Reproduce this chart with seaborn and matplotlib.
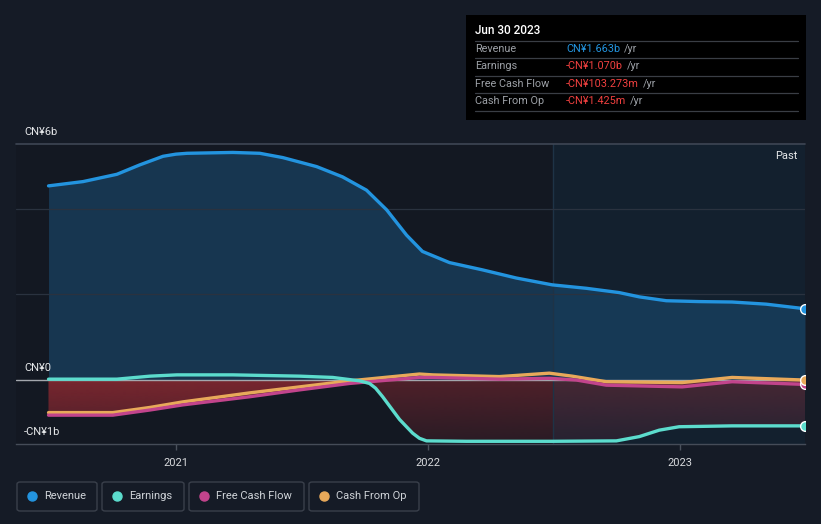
import numpy as np
import pandas as pd
import seaborn as sns
import matplotlib
matplotlib.use("Agg")
import matplotlib.pyplot as plt
from matplotlib.path import Path
from matplotlib.patches import Rectangle, FancyBboxPatch

# ---------------- data (CN¥ billions, decimal years) ----------------
rev_x = [2020.495, 2020.632, 2020.766, 2020.857, 2020.949, 2021.000, 2021.044, 2021.226, 2021.333,
         2021.424, 2021.558, 2021.661, 2021.756, 2021.836, 2021.915, 2021.978, 2022.085,
         2022.216, 2022.350, 2022.493, 2022.628, 2022.758, 2022.838, 2022.945, 2023.075,
         2023.206, 2023.341, 2023.495]
rev_y = [4.53, 4.63, 4.80, 5.02, 5.22, 5.27, 5.29, 5.31, 5.29,
         5.19, 4.98, 4.74, 4.43, 3.97, 3.38, 3.00, 2.74,
         2.57, 2.38, 2.22, 2.14, 2.04, 1.94, 1.85, 1.83,
         1.82, 1.77, 1.663]

earn_x = [2020.495, 2020.766, 2020.897, 2021.004, 2021.226, 2021.491, 2021.622, 2021.729,
          2021.768, 2021.792, 2021.820, 2021.887, 2021.939, 2021.966, 2021.994, 2022.152,
          2022.493, 2022.747, 2022.838, 2022.917, 2022.996, 2023.206, 2023.495]
earn_y = [0.02, 0.02, 0.09, 0.12, 0.12, 0.09, 0.06, -0.02,
          -0.08, -0.19, -0.39, -0.92, -1.24, -1.36, -1.42, -1.43,
          -1.43, -1.42, -1.32, -1.17, -1.09, -1.07, -1.070]

fcf_x = [2020.495, 2020.750, 2020.897, 2021.028, 2021.293, 2021.491, 2021.689, 2021.966,
         2022.018, 2022.283, 2022.481, 2022.588, 2022.707, 2023.008, 2023.206, 2023.495]
fcf_y = [-0.82, -0.82, -0.70, -0.58, -0.39, -0.23, -0.08, 0.06,
         0.06, 0.02, 0.04, 0.00, -0.12, -0.16, -0.04, -0.103]

cfo_x = [2020.495, 2020.750, 2020.897, 2021.028, 2021.293, 2021.491, 2021.689, 2021.966,
         2022.018, 2022.283, 2022.481, 2022.572, 2022.707, 2023.008, 2023.206, 2023.495]
cfo_y = [-0.76, -0.76, -0.64, -0.51, -0.30, -0.16, -0.02, 0.14,
         0.12, 0.08, 0.16, 0.09, -0.04, -0.06, 0.06, -0.001]

year_ticks = [2021, 2022, 2023]
year_labels = ["2021", "2022", "2023"]
past_start = 2022.495
series_names = ["Revenue", "Earnings", "Free Cash Flow", "Cash From Op"]
tooltip_date = "Jun 30 2023"
tooltip_values = ["CN¥1.663b", "-CN¥1.070b", "-CN¥103.273m", "-CN¥1.425m"]
y_labels = ["CN¥6b", "CN¥0", "-CN¥1b"]

# ---------------- styling ----------------
W, H = 821, 524
BG = "#151b26"
AX_BG = "#131822"
C_REV = "#2394df"
C_EARN = "#5cdccd"
C_FCF = "#c2448c"
C_CFO = "#e8a95a"
colors = [C_REV, C_EARN, C_FCF, C_CFO]

sns.set_theme(style="dark")
plt.rcParams["font.family"] = ["Roboto", "DejaVu Sans"]

fig = plt.figure(figsize=(W / 100, H / 100), dpi=100, facecolor=BG)


def fx(x):
    return x / W


def fy(y):
    return 1 - y / H


ax = fig.add_axes([fx(16), fy(444.3), (805 - 16) / W, 300 / H])
ax.set_facecolor(AX_BG)
XMIN, XMAX = 2020.366, 2023.495
YMIN, YMAX = -1.5, 5.5

# revenue area
ax.fill_between(rev_x, rev_y, 0, color="#2170a8", alpha=0.35, lw=0, zorder=1)


def grad_fill(xs, ys, rgb, a_top, a_bot):
    xs = np.asarray(xs)
    ys = np.asarray(ys)
    coll = ax.fill_between(xs, ys, 0, where=ys < 0, interpolate=True,
                           facecolor="none", edgecolor="none")
    paths = coll.get_paths()
    if not paths:
        return
    path = Path.make_compound_path(*paths)
    n = 256
    img = np.zeros((n, 1, 4))
    img[:, 0, 0] = rgb[0] / 255
    img[:, 0, 1] = rgb[1] / 255
    img[:, 0, 2] = rgb[2] / 255
    img[:, 0, 3] = np.linspace(a_top, a_bot, n)
    im = ax.imshow(img, extent=[XMIN, XMAX, YMIN, 0], origin="upper",
                   aspect="auto", zorder=1, interpolation="bilinear")
    im.set_clip_path(path, transform=ax.transData)


red = (158, 44, 52)
grad_fill(earn_x, earn_y, red, 0.44, 0.16)
grad_fill(fcf_x, fcf_y, red, 0.48, 0.18)
grad_fill(cfo_x, cfo_y, red, 0.48, 0.18)

# past overlay
ax.axvspan(past_start, XMAX, color=(20 / 255, 80 / 255, 120 / 255), alpha=0.15, lw=0, zorder=2)
ax.axvline(past_start, color="#1e3346", lw=1, zorder=2)

# grid lines
for v in [2, 4]:
    ax.axhline(v, color="#2a323f", lw=0.9, zorder=2)
ax.axhline(YMAX, color="#3e4654", lw=1.2, zorder=2, clip_on=False)
ax.axhline(0, color="#a3a7ad", lw=1.0, zorder=2)

# lines
df = pd.concat([
    pd.DataFrame({"x": rev_x, "y": rev_y, "s": series_names[0]}),
    pd.DataFrame({"x": earn_x, "y": earn_y, "s": series_names[1]}),
    pd.DataFrame({"x": fcf_x, "y": fcf_y, "s": series_names[2]}),
    pd.DataFrame({"x": cfo_x, "y": cfo_y, "s": series_names[3]}),
])
sns.lineplot(data=df, x="x", y="y", hue="s", palette=dict(zip(series_names, colors)),
             hue_order=series_names[::-1], lw=2.4, legend=False, ax=ax, zorder=4,
             estimator=None, sort=False)
for s in ax.lines[-4:]:
    s.set_solid_capstyle("round")
    s.set_solid_joinstyle("round")

# end markers
for xs, ys, c in [(rev_x, rev_y, C_REV), (earn_x, earn_y, C_EARN),
                  (fcf_x, fcf_y, C_FCF), (cfo_x, cfo_y, C_CFO)]:
    ax.plot([xs[-1]], [ys[-1]], "o", ms=7, mfc=c, mec="white", mew=1.0, zorder=5)

ax.set_xlim(XMIN, XMAX)
ax.set_ylim(YMIN, YMAX)
ax.set_yticks([])
ax.set_xticks(year_ticks)
ax.set_xticklabels(year_labels)
ax.tick_params(axis="x", colors="#4a515c", length=4, width=1, labelcolor="#d8dadd",
               labelsize=8, pad=6, bottom=True)
for side in ["top", "right", "left"]:
    ax.spines[side].set_visible(False)
ax.spines["bottom"].set_color("#454c58")
ax.spines["bottom"].set_linewidth(1)
ax.set_xlabel("")
ax.set_ylabel("")
ax.grid(False)

# y labels
for lab, yy in zip(y_labels, [132, 368, 432]):
    fig.text(fx(24), fy(yy), lab, color="#e6e8ea", fontsize=8, va="center", ha="left")

fig.text(fx(797), fy(156), "Past", color="#e6e8ea", fontsize=8, va="center", ha="right")

# tooltip
fig.patches.append(Rectangle((fx(466), fy(120)), 340 / W, 105 / H, transform=fig.transFigure,
                             facecolor="#000000", edgecolor="none", zorder=10))
fig.text(fx(475), fy(31), tooltip_date, color="#ffffff", fontsize=8.5, va="center",
         ha="left", zorder=11, weight="medium")
for yy in [41, 58.3, 76, 93, 110.5]:
    fig.add_artist(plt.Line2D([fx(475), fx(798)], [fy(yy), fy(yy)], transform=fig.transFigure,
                              color="#3a3e45", lw=0.9, zorder=11))
row_y = [49, 66, 84, 101]
val_colors = [C_REV, "#f0403f", "#f0403f", "#f0403f"]
value_texts = []
for name, val, c, yy in zip(series_names, tooltip_values, val_colors, row_y):
    fig.text(fx(475), fy(yy), name, color="#9da1a7", fontsize=7.8, va="center", ha="left", zorder=11)
    t = fig.text(fx(566), fy(yy), val, color=c, fontsize=7.8, va="center", ha="left", zorder=11)
    value_texts.append((t, yy))

fig.canvas.draw()
r = fig.canvas.get_renderer()
for t, yy in value_texts:
    bb = t.get_window_extent(renderer=r)
    fig.text(bb.x1 / W + fx(4), fy(yy), "/yr", color="#9da1a7", fontsize=7.8,
             va="center", ha="left", zorder=11)

# legend
boxes = [(17, 97), (102, 184), (189, 304), (309, 419)]
for (x0, x1), name, c in zip(boxes, series_names, colors):
    fig.patches.append(FancyBboxPatch((fx(x0), fy(511)), (x1 - x0) / W, 29 / H,
                                      boxstyle="round,pad=0,rounding_size=0.004",
                                      transform=fig.transFigure, facecolor="none",
                                      edgecolor="#3a404b", lw=1))
    fig.add_artist(plt.Line2D([fx(x0 + 15)], [fy(496)], marker="o", ms=6.5, mfc=c, mec=c,
                              transform=fig.transFigure, lw=0))
    fig.text(fx(x0 + 27), fy(496), name, color="#cfd3d8", fontsize=8, va="center", ha="left")

fig.savefig("out.png", dpi=100, facecolor=BG)
